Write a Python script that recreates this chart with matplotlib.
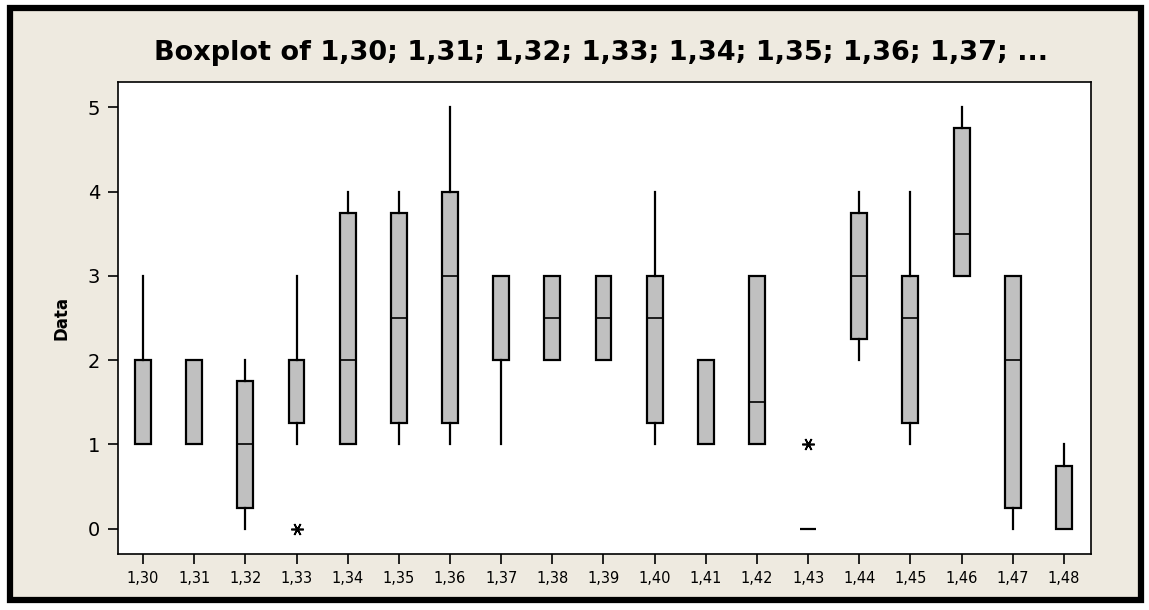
import matplotlib
matplotlib.use('Agg')
import matplotlib.pyplot as plt
from matplotlib.patches import Rectangle

# Minitab-style boxplot summary values
labels = ['1,30', '1,31', '1,32', '1,33', '1,34', '1,35', '1,36', '1,37', '1,38', '1,39',
          '1,40', '1,41', '1,42', '1,43', '1,44', '1,45', '1,46', '1,47', '1,48']
whislo = [1, 1, 0, 1, 1, 1, 1, 1, 2, 2, 1, 1, 1, 0, 2, 1, 3, 0, 0]
q1 = [1, 1, 0.25, 1.25, 1, 1.25, 1.25, 2, 2, 2, 1.25, 1, 1, 0, 2.25, 1.25, 3, 0.25, 0]
med = [1, 1, 1, 2, 2, 2.5, 3, 3, 2.5, 2.5, 2.5, 1, 1.5, 0, 3, 2.5, 3.5, 2, 0]
q3 = [2, 2, 1.75, 2, 3.75, 3.75, 4, 3, 3, 3, 3, 2, 3, 0, 3.75, 3, 4.75, 3, 0.75]
whishi = [3, 2, 2, 3, 4, 4, 5, 3, 3, 3, 4, 2, 3, 0, 4, 4, 5, 3, 1]
outliers = [[], [], [], [0], [], [], [], [], [], [], [], [], [], [1], [], [], [], [], []]

bg = '#EEEAE0'
fig = plt.figure(figsize=(11.49, 6.10), dpi=100, facecolor='white')

# beige panel with thick black frame
fig.patches.append(Rectangle((10 / 1149, 1 - 600 / 610), 1131 / 1149, 592 / 610,
                             transform=fig.transFigure, facecolor=bg,
                             edgecolor='black', linewidth=4.5, zorder=-5))

ax = fig.add_axes([118 / 1149, 1 - 554 / 610, 973 / 1149, 472 / 610])
ax.set_zorder(2)
ax.set_facecolor('white')

stats = []
for i in range(len(labels)):
    stats.append({'label': labels[i], 'whislo': whislo[i], 'q1': q1[i], 'med': med[i],
                  'q3': q3[i], 'whishi': whishi[i], 'fliers': outliers[i]})

ax.bxp(stats, positions=range(len(labels)), widths=0.31, showcaps=False,
       patch_artist=True,
       boxprops=dict(facecolor='#C0C0C0', edgecolor='black', linewidth=1.6),
       medianprops=dict(color='black', linewidth=1.2),
       whiskerprops=dict(color='black', linewidth=1.6),
       flierprops=dict(marker=(6, 2, 90), markersize=9, markeredgecolor='black',
                       markeredgewidth=1.2, linestyle='none'))

ax.set_xlim(-0.49, 18.53)
ax.set_ylim(-0.30, 5.3)
ax.set_yticks([0, 1, 2, 3, 4, 5])
ax.set_xticks(range(len(labels)))
ax.set_xticklabels(labels, fontsize=10.5)
ax.tick_params(axis='y', labelsize=14, length=7, width=1.2, direction='out', pad=6)
ax.tick_params(axis='x', length=7, width=1.2, direction='out', pad=5)
for s in ax.spines.values():
    s.set_linewidth(1.2)

ax.set_ylabel('Data', fontsize=12, fontweight='bold', labelpad=12)
fig.text(0.523, 1 - 53 / 610, 'Boxplot of 1,30; 1,31; 1,32; 1,33; 1,34; 1,35; 1,36; 1,37; ...',
         ha='center', va='center', fontsize=19.5, fontweight='bold')

fig.savefig('out.png', dpi=100, facecolor='white')
